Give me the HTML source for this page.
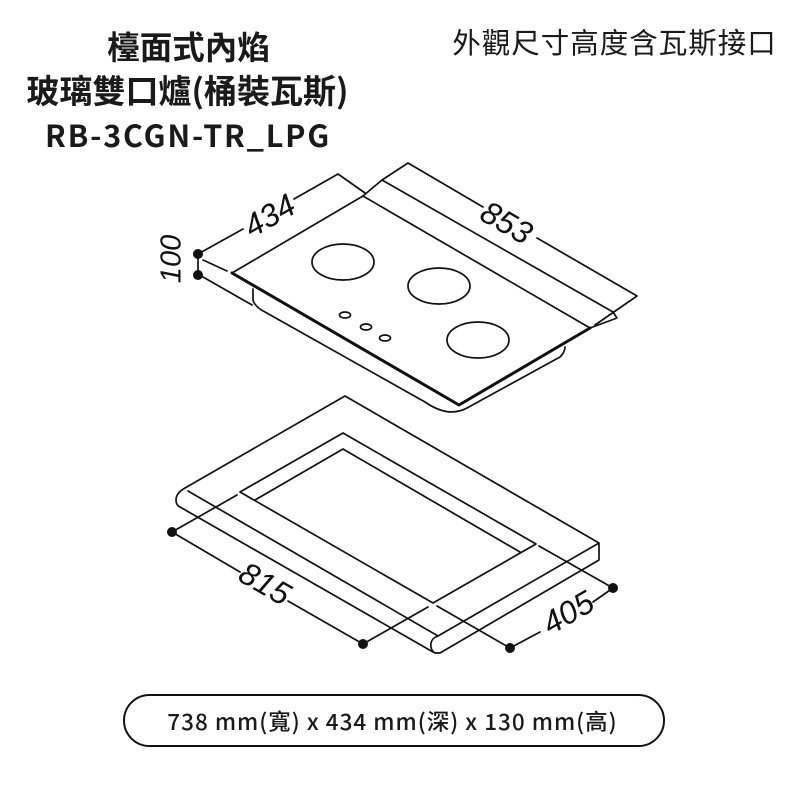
<!DOCTYPE html>
<html><head><meta charset="utf-8"><style>
html,body{margin:0;padding:0;background:#fff;width:800px;height:800px;overflow:hidden}
svg{display:block}
.n{font-family:"Noto Sans CJK TC","Liberation Sans",sans-serif;fill:#1a1a1a}
.d{font-family:"Liberation Sans",sans-serif;font-size:32px;fill:#111;text-anchor:middle;font-style:italic}
</style></head><body>
<svg width="800" height="800" viewBox="0 0 800 800" xmlns="http://www.w3.org/2000/svg">
<g class="n" text-anchor="middle" font-weight="700">
<text x="188.500" y="59" font-size="32.500">檯面式內焰</text>
<text x="187.500" y="103" font-size="33">玻璃雙口爐(桶裝瓦斯)</text>
<text x="188" y="147" font-size="30.500" letter-spacing="1.800">RB-3CGN-TR_LPG</text>
</g>
<text class="n" x="614.500" y="53" font-size="28.500" text-anchor="middle" letter-spacing="1">外觀尺寸高度含瓦斯接口</text>

<g fill="none" stroke="#111" stroke-width="1.700" stroke-linecap="round" stroke-linejoin="round">
<!-- hob dims -->
<path d="M198 254L243 229M294 199L338 174L365 193M363 196L382 180L408 163L483 207M537 238L637 296L595 325"/>
<path d="M198 254V275M203 260L227 271M203 277L252 305"/>
<!-- glass -->
<path d="M232 273L363 196L590 328M382 180L613 312L617 318L590 328"/>
<path d="M232 273L459 405L590 328" stroke-width="3"/>
<path d="M253 289V300Q255 307 265 312L425 402Q438 411 450 412Q460 412 467 408L560 357Q565 352 565 347"/>
<ellipse cx="343" cy="262" rx="31" ry="18"/>
<ellipse cx="439" cy="286" rx="31" ry="18"/>
<ellipse cx="478" cy="340" rx="31" ry="18"/>
<ellipse cx="345" cy="315" rx="5.500" ry="3"/>
<ellipse cx="366" cy="327" rx="5.500" ry="3"/>
<ellipse cx="385" cy="338" rx="5.500" ry="3"/>
<!-- counter -->
<path d="M185 488L345 396L599 543V560L440 653H435Q430 650 431 643Q432 638 438 636L599 543"/>
<path d="M185 488Q176 493 176 500Q176 505 180 507L433 652M188 491L438 636"/>
<path d="M240 492L343 433L536 544L433 603L240 492M255 500L343 449L520 552"/>
<!-- counter dims -->
<path d="M172 532L237 495M172 532L240 572M288 601L363 644L428 607M437 606L510 648L540 632M593 602L613 588L539 546"/>
</g>
<g fill="#111">
<circle cx="198" cy="254" r="5"/><circle cx="198" cy="275" r="5"/>
<circle cx="172" cy="532" r="5"/><circle cx="363" cy="644" r="5"/>
<circle cx="510" cy="648" r="5"/><circle cx="613" cy="588" r="5"/>
</g>
<text class="d" transform="translate(275 225) rotate(-30)">434</text>
<text class="d" transform="translate(501 232) rotate(30)">853</text>
<text class="d" style="font-size:29px" transform="translate(180.500 259) rotate(-90)">100</text>
<text class="d" transform="translate(259.500 593) rotate(30)">815</text>
<text class="d" transform="translate(573.500 622) rotate(-30)">405</text>

<rect x="124" y="695" width="540" height="51" rx="25.500" fill="none" stroke="#111" stroke-width="2"/>
<text class="n" x="392.500" y="730" font-size="22.500" letter-spacing="1" font-weight="500" text-anchor="middle">738 mm(寬) x 434 mm(深) x 130 mm(高)</text>
</svg>
</body></html>
